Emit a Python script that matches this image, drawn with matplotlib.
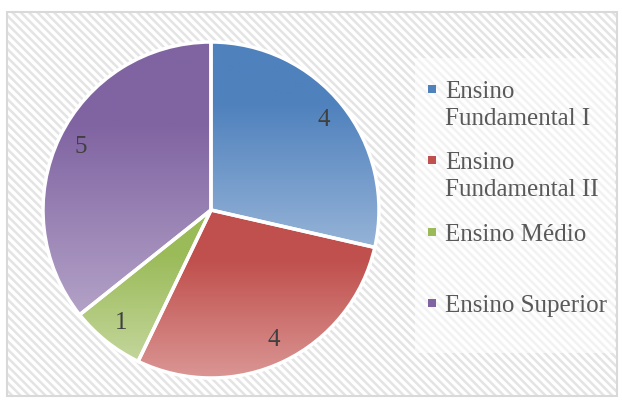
import numpy as np
import matplotlib
matplotlib.use('Agg')
import matplotlib.pyplot as plt
from matplotlib.patches import Rectangle
from matplotlib.colors import LinearSegmentedColormap

# data
labels = ['Ensino\nFundamental I', 'Ensino\nFundamental II', 'Ensino Médio', 'Ensino Superior']
values = [4, 4, 1, 5]
dark_colors = ['#4F81BD', '#C0504D', '#9BBB59', '#8064A2']
light_colors = ['#95B3D7', '#DA9694', '#C3D69B', '#B3A2C7']

W, H = 623, 400
plt.rcParams['font.family'] = ['Liberation Serif', 'DejaVu Serif']
plt.rcParams['hatch.linewidth'] = 1.8
plt.rcParams['hatch.color'] = '#E4E4E4'

fig = plt.figure(figsize=(W / 100, H / 100), dpi=100)
fig.patch.set_facecolor('white')


def fx(px):
    return px / W


def fy(py):
    return 1 - py / H


# chart area: hatched background + thin gray frame
bg = Rectangle((fx(7), fy(396)), fx(610), 384 / H, transform=fig.transFigure,
               facecolor='white', edgecolor='#E4E4E4', hatch='\\\\\\\\', linewidth=0,
               zorder=-3)
fig.patches.append(bg)
frame = Rectangle((fx(7), fy(396)), fx(610), 384 / H, transform=fig.transFigure,
                  facecolor='none', edgecolor='#D9D9D9', linewidth=1.5, zorder=-1)
fig.patches.append(frame)

# legend panel (lighter area)
leg_bg = Rectangle((fx(415), fy(353)), fx(200), 295 / H, transform=fig.transFigure,
                   facecolor='white', alpha=0.55, linewidth=0, zorder=-2)
fig.patches.append(leg_bg)

# pie axes: centre (211, 210) px, radius 168 px
cx, cy, R = 211, 210, 168
pad = 1.1
ax = fig.add_axes([fx(cx - R * pad), fy(cy + R * pad), 2 * R * pad / W, 2 * R * pad / H])
ax.set_facecolor('none')

total = sum(values)
wedges, texts, autotexts = ax.pie(
    values, startangle=90, counterclock=False, radius=1,
    autopct=lambda p: f'{round(p * total / 100)}', pctdistance=0.86,
    wedgeprops=dict(edgecolor='white', linewidth=2.5),
    textprops=dict(fontsize=18, color='#404040'))

for w, c0, c1 in zip(wedges, dark_colors, light_colors):
    bb = w.get_path().get_extents()
    cmap = LinearSegmentedColormap.from_list('g', [(0, c0), (0.3, c0), (1, c1)])
    grad = np.linspace(0, 1, 256).reshape(-1, 1)
    im = ax.imshow(grad, cmap=cmap, extent=[bb.x0, bb.x1, bb.y0, bb.y1],
                   origin='upper', aspect='auto', zorder=1, interpolation='bilinear')
    im.set_clip_path(w)
    w.set_facecolor('none')
    w.set_zorder(2)

for t in autotexts:
    t.set_zorder(3)

ax.set_xlim(-pad, pad)
ax.set_ylim(-pad, pad)
ax.axis('off')

# legend drawn by hand
marker_y = [89, 160, 232, 303]
for lab, c0, c1, my in zip(labels, dark_colors, light_colors, marker_y):
    sq = Rectangle((fx(428), fy(my + 4)), fx(8), 8 / H, transform=fig.transFigure,
                   facecolor=c0, edgecolor='none')
    fig.patches.append(sq)
    fig.text(fx(445), fy(my - 8), lab, fontsize=18, color='#595959',
             va='top', ha='left', linespacing=1.3)

fig.savefig('out.png', dpi=100, facecolor='white')
